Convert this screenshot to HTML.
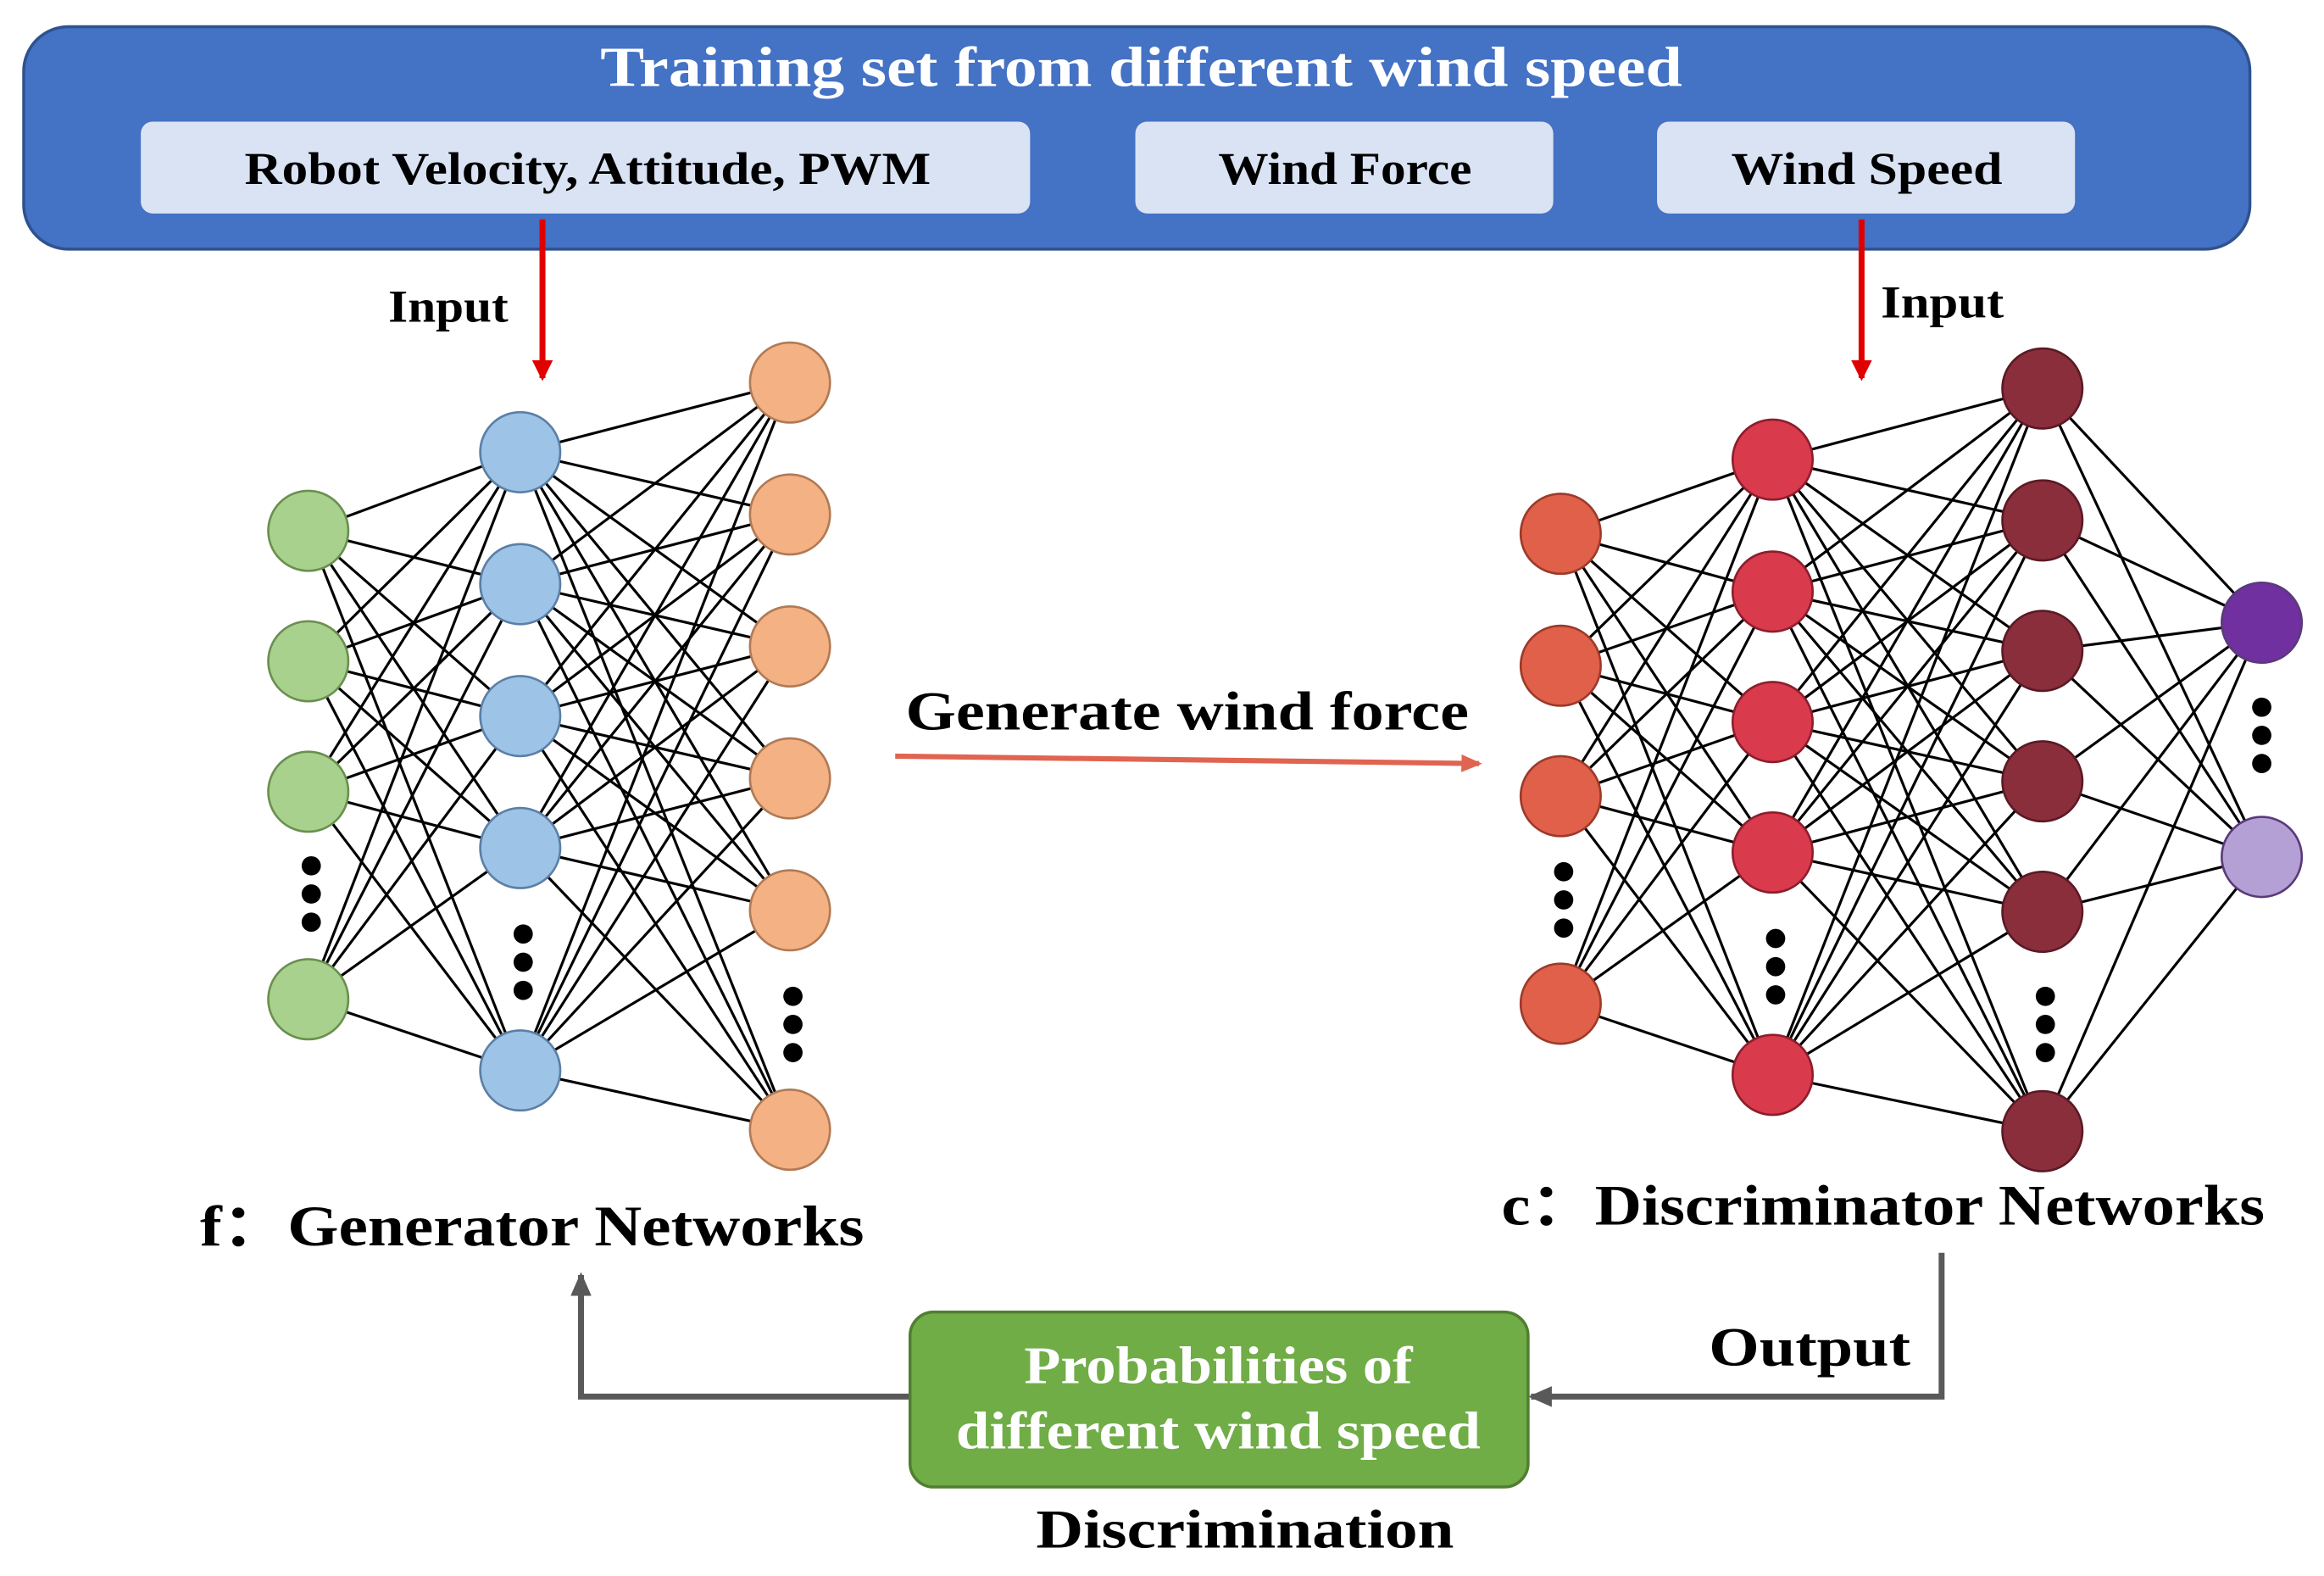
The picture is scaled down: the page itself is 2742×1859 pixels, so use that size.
<!DOCTYPE html>
<html><head><meta charset="utf-8"><style>html,body{margin:0;padding:0;background:#fff}svg{display:block}</style></head><body>
<svg width="2742" height="1859" viewBox="0 0 1568 1063" xmlns="http://www.w3.org/2000/svg" font-family="'Liberation Serif', serif" font-weight="bold">
<defs>
<marker id="ar" markerWidth="14" markerHeight="14" refX="12" refY="7" orient="auto" markerUnits="userSpaceOnUse"><path d="M0,0 L14,7 L0,14 z" fill="#e00000"/></marker>
<marker id="ao" markerWidth="14" markerHeight="12" refX="12" refY="6" orient="auto" markerUnits="userSpaceOnUse"><path d="M0,0 L14,6 L0,12 z" fill="#e06450"/></marker>
<marker id="ag" markerWidth="16" markerHeight="14" refX="14" refY="7" orient="auto" markerUnits="userSpaceOnUse"><path d="M0,0 L16,7 L0,14 z" fill="#595959"/></marker>
</defs>
<rect x="16" y="18" width="1502" height="150" rx="30" fill="#4472C4" stroke="#2F528F" stroke-width="2"/>
<text x="405" y="58" fill="#fff" font-size="38" textLength="730" lengthAdjust="spacingAndGlyphs">Training set from different wind speed</text>
<rect x="95" y="82" width="600" height="62" rx="8" fill="#DAE3F3"/>
<rect x="766" y="82" width="282" height="62" rx="8" fill="#DAE3F3"/>
<rect x="1118" y="82" width="282" height="62" rx="8" fill="#DAE3F3"/>
<g font-size="31" fill="#000" lengthAdjust="spacingAndGlyphs">
<text x="165" y="124" textLength="463" lengthAdjust="spacingAndGlyphs">Robot Velocity, Attitude, PWM</text>
<text x="822" y="124" textLength="171" lengthAdjust="spacingAndGlyphs">Wind Force</text>
<text x="1168" y="124" textLength="183" lengthAdjust="spacingAndGlyphs">Wind Speed</text>
<text x="262" y="217" textLength="81" lengthAdjust="spacingAndGlyphs">Input</text>
<text x="1269" y="214" textLength="83" lengthAdjust="spacingAndGlyphs">Input</text>
</g>
<line x1="366" y1="148" x2="366" y2="255" stroke="#e00000" stroke-width="4" marker-end="url(#ar)"/>
<line x1="1256" y1="148" x2="1256" y2="255" stroke="#e00000" stroke-width="4" marker-end="url(#ar)"/>
<g id="net" stroke="#000" stroke-width="1.8"></g>
<script>
(function(){
var ns="http://www.w3.org/2000/svg",g=document.getElementById("net");
function L(a,b){a.ys.forEach(function(y1){b.ys.forEach(function(y2){var l=document.createElementNS(ns,"line");l.setAttribute("x1",a.x);l.setAttribute("y1",y1);l.setAttribute("x2",b.x);l.setAttribute("y2",y2);g.appendChild(l);});});}
function N(a,fill,stroke){a.ys.forEach(function(y,i){var c=document.createElementNS(ns,"circle");c.setAttribute("cx",a.x);c.setAttribute("cy",y);c.setAttribute("r",27);c.setAttribute("fill",Array.isArray(fill)?fill[i]:fill);c.setAttribute("stroke",stroke);c.setAttribute("stroke-width","1.5");g.appendChild(c);});}
function D(x,y0){for(var i=0;i<3;i++){var c=document.createElementNS(ns,"circle");c.setAttribute("cx",x);c.setAttribute("cy",y0+i*19);c.setAttribute("r",6.5);c.setAttribute("fill","#000");c.setAttribute("stroke","none");g.appendChild(c);}}
var g1={x:208,ys:[358,446,534,674]},g2={x:351,ys:[305,394,483,572,722]},g3={x:533,ys:[258,347,436,525,614,762]};
var d1={x:1053,ys:[360,449,537,677]},d2={x:1196,ys:[310,399,487,575,725]},d3={x:1378,ys:[262,351,439,527,615,763]},d4={x:1526,ys:[420,578]};
L(g1,g2);L(g2,g3);L(d1,d2);L(d2,d3);L(d3,d4);
N(g1,"#A9D18E","#6A8F4F");N(g2,"#9DC3E6","#5B7FA6");N(g3,"#F4B183","#B07A55");
N(d1,"#E0604A","#9C3A2A");N(d2,"#D93A4C","#8C1E2C");N(d3,"#8B2E3C","#5A1A24");N(d4,["#7030A0","#B4A0D4"],"#5A3A7A");
D(210,584);D(353,630);D(535,672);D(1055,588);D(1198,633);D(1380,672);D(1526,477);
})();
</script>
<text x="611" y="492" font-size="37" textLength="380" lengthAdjust="spacingAndGlyphs">Generate wind force</text>
<line x1="604" y1="510" x2="998" y2="515" stroke="#e06450" stroke-width="3.5" marker-end="url(#ao)"/>
<text x="135" y="840" font-size="39" textLength="448" lengthAdjust="spacingAndGlyphs">f：Generator Networks</text>
<text x="1013" y="826" font-size="39" textLength="515" lengthAdjust="spacingAndGlyphs">c：Discriminator Networks</text>
<polyline points="1310,845 1310,942 1033,942" fill="none" stroke="#595959" stroke-width="4" marker-end="url(#ag)"/>
<polyline points="614,942 392,942 392,860" fill="none" stroke="#595959" stroke-width="4" marker-end="url(#ag)"/>
<text x="1153" y="921" font-size="37" textLength="136" lengthAdjust="spacingAndGlyphs">Output</text>
<rect x="614" y="885" width="417" height="118" rx="16" fill="#70AD47" stroke="#507E32" stroke-width="2"/>
<text x="691" y="933" font-size="36" fill="#fff" textLength="262" lengthAdjust="spacingAndGlyphs">Probabilities of</text>
<text x="645" y="977" font-size="36" fill="#fff" textLength="354" lengthAdjust="spacingAndGlyphs">different wind speed</text>
<text x="699" y="1044" font-size="37" textLength="282" lengthAdjust="spacingAndGlyphs">Discrimination</text>
</svg>
</body></html>
